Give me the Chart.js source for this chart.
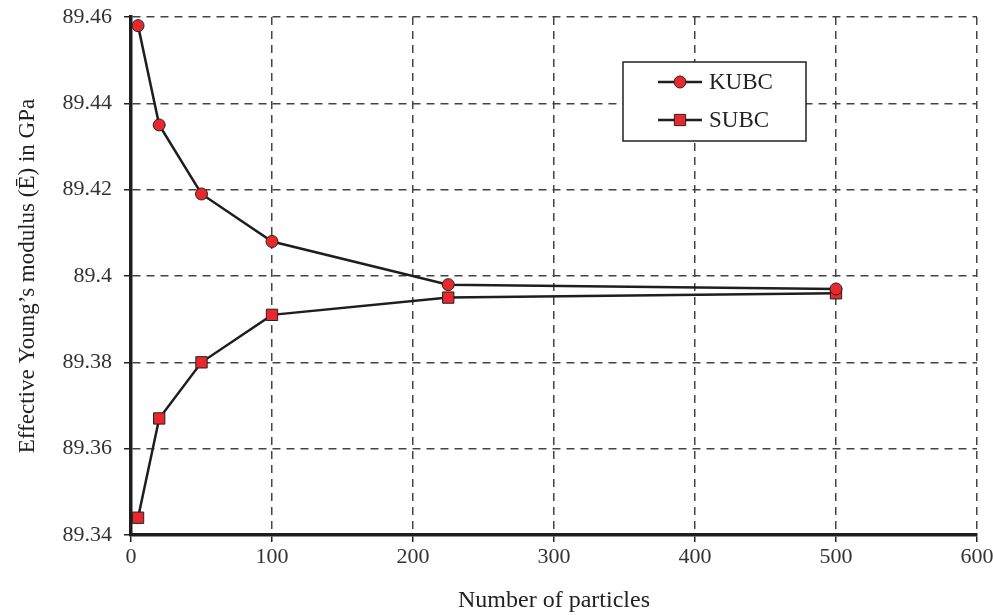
<!DOCTYPE html>
<html>
<head>
<meta charset="utf-8">
<script src="https://cdn.jsdelivr.net/npm/chart.js@4"></script>
<style>
html,body{margin:0;padding:0;background:#fff;}
#wrap{width:993px;height:615px;}
</style>
</head>
<body>
<div id="wrap"><canvas id="c" width="993" height="615"></canvas></div>
<script>
const particles = [5, 20, 50, 100, 225, 500];
const kubcValues = [89.458, 89.435, 89.419, 89.408, 89.398, 89.397];
const subcValues = [89.344, 89.367, 89.380, 89.391, 89.395, 89.396];
const seriesLabels = ['KUBC', 'SUBC'];
const xAxisTitle = 'Number of particles';
const yAxisTitle = 'Effective Young\u2019s modulus (\u0112) in GPa';

const FONT = '"Liberation Serif", "Times New Roman", serif';

const legendBox = {
  id: 'legendBox',
  afterDraw(chart) {
    const ctx = chart.ctx, ca = chart.chartArea;
    const x0 = ca.left + 492, y0 = ca.top + 45, w = 183, h = 79;
    ctx.save();
    ctx.fillStyle = '#fff';
    ctx.fillRect(x0, y0, w, h);
    ctx.strokeStyle = '#222';
    ctx.lineWidth = 1.5;
    ctx.strokeRect(x0, y0, w, h);
    chart.data.datasets.forEach((ds, i) => {
      const cy = y0 + 20 + i * 38;
      ctx.strokeStyle = ds.borderColor;
      ctx.lineWidth = ds.borderWidth;
      ctx.beginPath();
      ctx.moveTo(x0 + 35, cy);
      ctx.lineTo(x0 + 79, cy);
      ctx.stroke();
      ctx.fillStyle = ds.pointBackgroundColor;
      ctx.strokeStyle = ds.pointBorderColor;
      ctx.lineWidth = ds.pointBorderWidth;
      ctx.beginPath();
      if (ds.pointStyle === 'circle') {
        ctx.arc(x0 + 57, cy, ds.pointRadius, 0, Math.PI * 2);
      } else {
        const s = ds.pointRadius * Math.SQRT1_2;
        ctx.rect(x0 + 57 - s, cy - s, 2 * s, 2 * s);
      }
      ctx.fill();
      ctx.stroke();
      ctx.fillStyle = '#222';
      ctx.font = '23px ' + FONT;
      ctx.textBaseline = 'middle';
      ctx.textAlign = 'left';
      ctx.fillText(ds.label, x0 + 86, cy + 1);
    });
    ctx.restore();
  }
};

const gridOpts = {
  color: '#444',
  lineWidth: 1.5,
  tickLength: 7,
  tickColor: '#222',
  tickWidth: 1.5,
  tickBorderDash: []
};

new Chart(document.getElementById('c'), {
  type: 'scatter',
  data: {
    datasets: [
      {
        label: seriesLabels[0],
        data: particles.map((x, i) => ({x: x, y: kubcValues[i]})),
        showLine: true,
        borderColor: '#1e1e1e',
        borderWidth: 2.5,
        pointStyle: 'circle',
        pointRadius: 6,
        pointBackgroundColor: '#e8282c',
        pointBorderColor: '#222',
        pointBorderWidth: 1,
        clip: false
      },
      {
        label: seriesLabels[1],
        data: particles.map((x, i) => ({x: x, y: subcValues[i]})),
        showLine: true,
        borderColor: '#1e1e1e',
        borderWidth: 2.5,
        pointStyle: 'rect',
        pointRadius: 8,
        pointBackgroundColor: '#e8282c',
        pointBorderColor: '#222',
        pointBorderWidth: 1,
        clip: false
      }
    ]
  },
  options: {
    responsive: false,
    animation: false,
    layout: {autoPadding: false, padding: {left: 0, top: 17, right: 16, bottom: 0}},
    plugins: {legend: {display: false}, tooltip: {enabled: false}},
    scales: {
      x: {
        type: 'linear',
        min: 0, max: 600,
        ticks: {stepSize: 100, color: '#333', font: {family: FONT, size: 22}, padding: 2},
        grid: gridOpts,
        border: {display: true, color: '#1e1e1e', width: 3.5, dash: [8, 6]},
        title: {display: true, text: xAxisTitle, color: '#222', font: {family: FONT, size: 24}, padding: {top: 0, bottom: 0}},
        afterFit(s) { s.height = 80; s.paddingLeft = 0; s.paddingRight = 0; }
      },
      y: {
        type: 'linear',
        min: 89.34, max: 89.46,
        ticks: {stepSize: 0.02, color: '#333', font: {family: FONT, size: 22}, padding: 12,
          callback: v => {
            const r = Math.round(v * 100) / 100;
            return r.toFixed(2).replace(/0$/, '');
          }},
        grid: gridOpts,
        border: {display: true, color: '#1e1e1e', width: 3.5, dash: [8, 6]},
        title: {display: true, text: yAxisTitle, color: '#222', font: {family: FONT, size: 23}, padding: {top: 14, bottom: 0}},
        afterFit(s) { s.width = 131; s.paddingTop = 0; s.paddingBottom = 0; }
      }
    }
  },
  plugins: [legendBox]
});
</script>
</body>
</html>
